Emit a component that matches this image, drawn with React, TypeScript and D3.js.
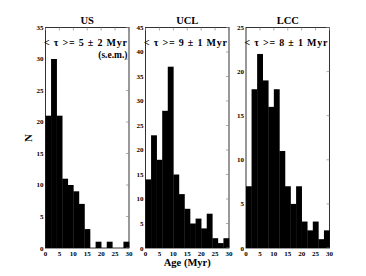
import { useEffect, useRef } from 'react';
import * as d3 from 'd3';

const binEdges = d3.range(0, 32, 2);
const usCounts = [21, 30, 21, 11, 10, 9, 7, 3, 0, 1, 0, 1, 0, 0, 1];
const uclCounts = [14, 23, 18, 28, 37, 15, 11, 8, 5, 6, 4, 7, 2, 1, 2];
const lccCounts = [7, 18, 22, 19, 16, 18, 11, 7, 5, 7, 3, 2, 3, 1, 2];
const panelNames = ['US', 'UCL', 'LCC'];
const yMaxes = [35, 45, 25];
const meanLabels = ['5 ± 2 Myr', '9 ± 1 Myr', '8 ± 1 Myr'];
const xTicks = [0, 5, 10, 15, 20, 25, 30];

const W = 366;
const H = 276;
const panelLefts = [45.5, 145.5, 246];
const panelW = 83.5;
const top = 27.5;
const bottom = 248;
const font = '"Liberation Serif", "DejaVu Serif", serif';

const App = () => {
	const svgRef = useRef<SVGSVGElement>(null);

	useEffect(() => {
		const svg = d3.select(svgRef.current);
		svg.selectAll('*').remove();
		const allCounts = [usCounts, uclCounts, lccCounts];

		allCounts.forEach((counts, i) => {
			const x = d3.scaleLinear().domain([0, 30]).range([panelLefts[i], panelLefts[i] + panelW]);
			const y = d3.scaleLinear().domain([0, yMaxes[i]]).range([bottom, top]);
			const g = svg.append('g');

			g.selectAll('rect.bar')
				.data(counts)
				.join('rect')
				.attr('class', 'bar')
				.attr('x', (_, j) => x(binEdges[j]))
				.attr('width', (_, j) => x(binEdges[j + 1]) - x(binEdges[j]) + 0.3)
				.attr('y', d => y(d))
				.attr('height', d => bottom - y(d))
				.attr('fill', '#000');

			g.append('rect')
				.attr('x', x(0))
				.attr('y', top)
				.attr('width', panelW)
				.attr('height', bottom - top)
				.attr('fill', 'none')
				.attr('stroke', '#000')
				.attr('stroke-width', 0.8);

			// ticks, inward on top and right
			const yTicks = d3.range(0, yMaxes[i] + 1, 5);
			g.selectAll('line.xt')
				.data(xTicks)
				.join('line')
				.attr('x1', d => x(d))
				.attr('x2', d => x(d))
				.attr('y1', top)
				.attr('y2', top + 3)
				.attr('stroke', '#888')
				.attr('stroke-width', 0.7);
			g.selectAll('line.yt')
				.data(yTicks)
				.join('line')
				.attr('x1', x(30))
				.attr('x2', x(30) - 3)
				.attr('y1', d => y(d))
				.attr('y2', d => y(d))
				.attr('stroke', '#888')
				.attr('stroke-width', 0.7);

			g.selectAll('text.xl')
				.data(xTicks)
				.join('text')
				.attr('x', d => x(d))
				.attr('y', bottom + 7.5)
				.attr('text-anchor', 'middle')
				.style('font', `bold 7px ${font}`)
				.text(d => d);
			g.selectAll('text.yl')
				.data(yTicks)
				.join('text')
				.attr('x', x(0) - 2)
				.attr('y', d => y(d) + (d === 0 ? 3 : 2))
				.attr('text-anchor', 'end')
				.style('font', `bold 7px ${font}`)
				.text(d => d);

			g.append('text')
				.attr('x', x(15))
				.attr('y', top - 4)
				.attr('text-anchor', 'middle')
				.style('font', `bold 10.5px ${font}`)
				.text(panelNames[i]);

			g.append('text')
				.attr('x', x(30) - 85)
				.attr('y', top + 18)
				.attr('textLength', 83)
				.attr('lengthAdjust', 'spacing')
				.style('font', `bold 10px ${font}`)
				.text(`< τ >= ${meanLabels[i]}`);
			if (i === 0) {
				g.append('text')
					.attr('x', x(30) - 1.5)
					.attr('y', top + 30)
					.attr('text-anchor', 'end')
					.style('font', `bold 9.5px ${font}`)
					.text('(s.e.m.)');
			}
		});

		svg.append('text')
			.attr('transform', `translate(32,138) rotate(-90)`)
			.attr('text-anchor', 'middle')
			.style('font', `bold 11px ${font}`)
			.text('N');

		svg.append('text')
			.attr('x', panelLefts[1] + panelW / 2)
			.attr('y', 266)
			.attr('text-anchor', 'middle')
			.style('font', `bold 10.5px ${font}`)
			.text('Age (Myr)');
	}, []);

	return (
		<svg
			ref={svgRef}
			width={W}
			height={H}
			style={{ position: 'absolute', left: 0, top: 0, background: '#fff' }}
		/>
	);
};

export default App;
